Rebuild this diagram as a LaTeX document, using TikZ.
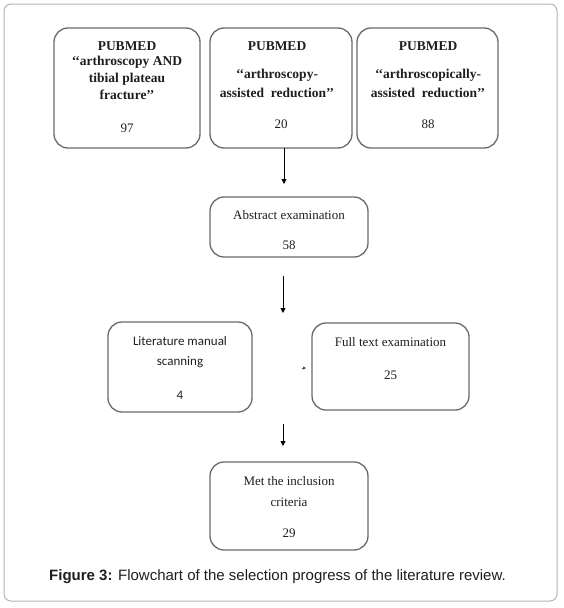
\documentclass[tikz,border=0pt]{standalone}
\usepackage{fontspec}
\setmainfont{Liberation Serif}
\newfontfamily\arialf{Liberation Sans}
\newfontfamily\calibrif{Carlito}
\usetikzlibrary{arrows.meta}
\definecolor{boxline}{HTML}{6A6A6A}
\definecolor{frameline}{HTML}{B4B4B4}
\definecolor{txt}{HTML}{1E1E1E}
\begin{document}
\begin{tikzpicture}[x=1pt,y=-1pt,
  box/.style={draw=boxline,line width=1.3pt,rounded corners=14pt,inner sep=0pt},
  lbl/.style={text=txt,font=\fontsize{13}{15}\selectfont,inner sep=0pt,anchor=center},
  blbl/.style={lbl,font=\fontsize{13.5}{15}\selectfont\bfseries},
  clbl/.style={lbl,font=\fontsize{13}{15}\selectfont\calibrif},
  arr/.style={draw=black,line width=0.9pt,-{Triangle[length=5pt,width=5pt]}}]
\useasboundingbox (0,0) rectangle (564,608);
\node[draw=frameline,line width=1pt,rounded corners=7pt,minimum width=553pt,minimum height=597pt,inner sep=0pt] (frame) at (280.5,302.5) {};
% top boxes
\node[box,minimum width=146pt,minimum height=120pt] (b1) at (127,88) {};
\node[box,minimum width=142pt,minimum height=120pt] (b2) at (281,88) {};
\node[box,minimum width=141pt,minimum height=120pt] (b3) at (427.5,88) {};
\node[blbl] (b1t1) at (127,46) {PUBMED};
\node[blbl] (b1t2) at (127,62) {‘‘arthroscopy AND};
\node[blbl] (b1t3) at (127,79) {tibial plateau};
\node[blbl] (b1t4) at (127,95) {fracture’’};
\node[lbl] (b1n) at (127,128) {97};
\node[blbl] (b2t1) at (277,46) {PUBMED};
\node[blbl] (b2t2) at (277,75) {‘‘arthroscopy-};
\node[blbl] (b2t3) at (277,93) {assisted\ \ reduction’’};
\node[lbl] (b2n) at (281,124) {20};
\node[blbl] (b3t1) at (428,46) {PUBMED};
\node[blbl] (b3t2) at (428,75) {‘‘arthroscopically-};
\node[blbl] (b3t3) at (428,93) {assisted\ \ reduction’’};
\node[lbl] (b3n) at (428,124) {88};
% abstract
\node[box,minimum width=158pt,minimum height=60pt] (abs) at (289,227) {};
\node[lbl] (abst) at (289,215) {Abstract examination};
\node[lbl] (absn) at (289,245) {58};
% literature and full text
\node[box,minimum width=144pt,minimum height=90pt] (lit) at (180,367) {};
\node[clbl] (litt1) at (180,341) {Literature manual};
\node[clbl] (litt2) at (180,362) {scanning};
\node[clbl] (litn) at (180,395) {4};
\node[box,minimum width=157pt,minimum height=87pt] (full) at (390.5,366.5) {};
\node[lbl] (fullt) at (390.5,342) {Full text examination};
\node[lbl] (fulln) at (390.5,375) {25};
% met
\node[box,minimum width=158pt,minimum height=88pt] (met) at (289,506) {};
\node[lbl] (mett1) at (289,481) {Met the inclusion};
\node[lbl] (mett2) at (289,502) {criteria};
\node[lbl] (metn) at (289,533) {29};
% arrows
\coordinate (a1s) at (284,148);
\coordinate (a1e) at (284,184);
\draw[arr] (a1s) -- (a1e);
\coordinate (a2s) at (283,276);
\coordinate (a2e) at (283,313);
\draw[arr] (a2s) -- (a2e);
\coordinate (a3s) at (283,424);
\coordinate (a3e) at (283,446);
\draw[arr] (a3s) -- (a3e);
\coordinate (a4s) at (302,368);
\coordinate (a4e) at (306,368);
\draw[draw=black!70,line width=0.6pt,-{Triangle[length=3pt,width=3pt]}] (a4s) -- (a4e);
% caption
\node[text=txt,font=\fontsize{15}{17}\selectfont\arialf,inner sep=0pt] (cap) at (277.5,577) {\textbf{Figure 3:} Flowchart of the selection progress of the literature review.};
\end{tikzpicture}
\end{document}
